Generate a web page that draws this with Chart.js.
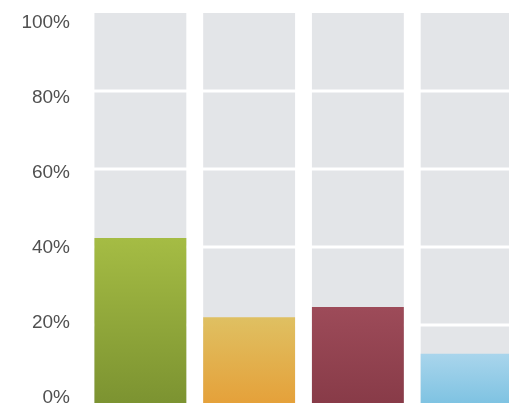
<!DOCTYPE html>
<html>
<head>
<meta charset="utf-8">
<script src="https://cdn.jsdelivr.net/npm/chart.js@4"></script>
<style>
  html, body { margin: 0; padding: 0; background: #ffffff; overflow: hidden; width: 509px; height: 407px; }
  #wrap { width: 530px; height: 407px; }
</style>
</head>
<body>
<div id="wrap"><canvas id="c" width="530" height="407"></canvas></div>
<script>
const categories = ['A', 'B', 'C', 'D'];
const values = [42.3, 22.0, 24.6, 12.6];
const trackValues = [100, 100, 100, 100];
const tickValues = [0, 20, 40, 60, 80, 100];
const gridValues = [20, 40, 60, 80];
const topColors = ['#a5bc44', '#dfc062', '#9d4b59', '#a9d5ec'];
const bottomColors = ['#7c9331', '#e5a13a', '#883b48', '#7fc3e2'];

function barGradient(ctx) {
  const chart = ctx.chart;
  const area = chart.chartArea;
  if (!area) return topColors[ctx.dataIndex];
  const y = chart.scales.y;
  const top = y.getPixelForValue(ctx.raw);
  const bottom = y.getPixelForValue(0);
  const g = chart.ctx.createLinearGradient(0, top, 0, bottom);
  g.addColorStop(0, topColors[ctx.dataIndex]);
  g.addColorStop(1, bottomColors[ctx.dataIndex]);
  return g;
}

const gridPlugin = {
  id: 'whiteGrid',
  afterDatasetDraw(chart, args) {
    if (args.index !== 1) return;
    const c = chart.ctx;
    const y = chart.scales.y;
    const a = chart.chartArea;
    c.save();
    c.strokeStyle = '#ffffff';
    c.lineWidth = 3;
    gridValues.forEach(v => {
      const py = y.getPixelForValue(v);
      c.beginPath();
      c.moveTo(a.left, py);
      c.lineTo(a.right, py);
      c.stroke();
    });
    c.restore();
  }
};

new Chart(document.getElementById('c'), {
  type: 'bar',
  data: {
    labels: categories,
    datasets: [
      {
        data: values,
        backgroundColor: barGradient,
        borderWidth: 0,
        grouped: false,
        barPercentage: 0.845,
        categoryPercentage: 1
      },
      {
        data: trackValues,
        backgroundColor: '#e3e5e8',
        borderWidth: 0,
        grouped: false,
        barPercentage: 0.845,
        categoryPercentage: 1
      }
    ]
  },
  options: {
    responsive: false,
    animation: false,
    events: [],
    layout: { padding: { left: 0, right: 9, top: 13, bottom: 4 } },
    plugins: { legend: { display: false }, tooltip: { enabled: false } },
    scales: {
      x: { display: false },
      y: { display: false, min: 0, max: 100 },
      yl: {
        position: 'left',
        min: -1.333,
        max: 102.667,
        grid: { display: false, drawTicks: false },
        border: { display: false },
        ticks: {
          padding: 16,
          color: '#505050',
          font: { family: 'Liberation Sans, Arial, sans-serif', size: 19 },
          callback: v => v + '%'
        },
        afterBuildTicks: s => { s.ticks = tickValues.map(v => ({ value: v })); },
        afterFit: s => { s.width = 86; s.paddingTop = 0; s.paddingBottom = 0; }
      }
    }
  },
  plugins: [gridPlugin]
});
</script>
</body>
</html>
